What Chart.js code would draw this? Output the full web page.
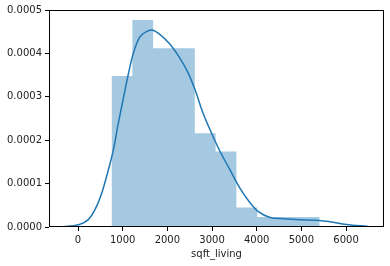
<!DOCTYPE html>
<html>
<head>
<meta charset="utf-8">
<script src="https://cdn.jsdelivr.net/npm/chart.js@4.4.1/dist/chart.umd.min.js"></script>
<style>
  html, body { margin: 0; padding: 0; background: #fff; }
  #wrap { width: 390px; height: 266px; }
</style>
</head>
<body>
<div id="wrap"><canvas id="chart"></canvas></div>
<script>
// histogram (density) - bin edges and heights
var binEdges = [750, 1216, 1682, 2148, 2614, 3080, 3546, 4012, 4478, 4944, 5410];
var binHeights = [0.000348, 0.000477, 0.000412, 0.000412, 0.000216, 0.000174, 0.000045, 0.000023, 0.000023, 0.000023];

// kde curve
var kdeX = [-330, 0, 230, 380, 530, 680, 790, 900, 1010, 1125, 1235, 1385, 1570, 1650, 1830, 2060, 2280, 2470, 2620, 2800, 2990, 3180, 3400, 3620, 3850, 4030, 4300, 4600, 4970, 5410, 5640, 6010, 6490];
var kdeY = [0.0000005, 0.000005, 0.000017, 0.00004, 0.000078, 0.000132, 0.000177, 0.000238, 0.000294, 0.000352, 0.000399, 0.000438, 0.000452, 0.000454, 0.000444, 0.000421, 0.000389, 0.000354, 0.000316, 0.000262, 0.000216, 0.000174, 0.000132, 0.00009, 0.000056, 0.000036, 0.000022, 0.000019, 0.0000168, 0.0000152, 0.0000122, 0.000006, 0.0000014];

var xTicks = [0, 1000, 2000, 3000, 4000, 5000, 6000];
var yTicks = [0, 0.0001, 0.0002, 0.0003, 0.0004, 0.0005];
var xTitle = 'sqft_living';

Chart.defaults.font.family = 'DejaVu Sans';
Chart.defaults.font.size = 10;
Chart.defaults.color = '#222';

// one point per bin edge, the last edge repeats the last height
var histPoints = binEdges.map(function(e, i) {
    return { x: e, y: binHeights[Math.min(i, binHeights.length - 1)] };
});
var kdePoints = kdeX.map(function(x, i) {
    return { x: x, y: kdeY[i] };
});

var frame = {
    id: 'frame',
    afterDraw: function(chart) {
        var a = chart.chartArea, ctx = chart.ctx;
        ctx.save();
        ctx.strokeStyle = '#000';
        ctx.lineWidth = 1;
        ctx.strokeRect(Math.round(a.left) + 0.5, Math.round(a.top) + 0.5,
            Math.round(a.right - a.left) - 1, Math.round(a.bottom - a.top) - 1);
        ctx.restore();
    }
};

new Chart(document.getElementById('chart').getContext('2d'), {
    type: 'line',
    data: {
        datasets: [{
            label: 'kde',
            data: kdePoints,
            borderColor: '#1f77b4',
            borderWidth: 1.5,
            pointRadius: 0,
            cubicInterpolationMode: 'monotone',
            fill: false,
            order: 0
        }, {
            label: 'hist',
            data: histPoints,
            stepped: 'before',
            borderWidth: 0,
            borderColor: 'transparent',
            backgroundColor: 'rgba(31,119,180,0.4)',
            pointRadius: 0,
            fill: 'origin',
            order: 1
        }]
    },
    options: {
        responsive: true,
        maintainAspectRatio: false,
        animation: false,
        layout: { padding: { left: 0, top: 10, right: 6, bottom: 0 } },
        plugins: {
            legend: { display: false },
            tooltip: { enabled: false }
        },
        scales: {
            x: {
                type: 'linear',
                min: -650,
                max: 6850,
                afterBuildTicks: function(scale) {
                    scale.ticks = xTicks.map(function(v) { return { value: v } });
                },
                afterFit: function(scale) { scale.height = 39; },
                grid: { drawOnChartArea: false, tickLength: 4, tickColor: '#000' },
                border: { display: false },
                ticks: {
                    padding: 3,
                    maxRotation: 0,
                    color: '#222',
                    callback: function(v) { return String(v) }
                },
                title: { display: true, text: xTitle, color: '#222', padding: { top: 0, bottom: 6 } }
            },
            y: {
                min: 0,
                max: 0.0005,
                afterBuildTicks: function(scale) {
                    scale.ticks = yTicks.map(function(v) { return { value: v } });
                },
                afterFit: function(scale) { scale.width = 49; },
                grid: { drawOnChartArea: false, tickLength: 4, tickColor: '#000' },
                border: { display: false },
                ticks: {
                    padding: 3,
                    color: '#222',
                    callback: function(v) { return Number(v).toFixed(4) }
                }
            }
        }
    },
    plugins: [frame]
});
</script>
</body>
</html>
